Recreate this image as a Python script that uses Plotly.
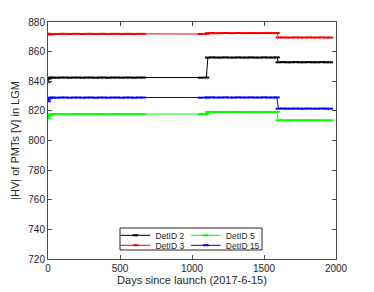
import plotly.graph_objects as go

days = [0, 5, 15, 30, 60, 90, 120, 150, 180, 210, 240, 270, 300, 330, 360, 390, 420, 450, 480, 510, 540, 570, 600, 630, 660,
        1060, 1100,
        1110, 1140, 1170, 1200, 1230, 1260, 1290, 1320, 1350, 1380, 1410, 1440, 1470, 1500, 1530, 1560, 1590,
        1600, 1630, 1660, 1690, 1720, 1750, 1780, 1810, 1840, 1870, 1900, 1930, 1960]

det2 = [839.6, 841.8, 842.4, 842.5, 842.4, 842.5, 842.5, 842.4, 842.5, 842.5, 842.4, 842.5, 842.5, 842.4, 842.5, 842.5, 842.4, 842.5, 842.5, 842.4, 842.5, 842.5, 842.4, 842.5, 842.5,
        842.4, 842.5,
        856.0, 856.1, 856.0, 856.0, 856.1, 856.0, 856.0, 856.1, 856.0, 856.0, 856.1, 856.0, 856.0, 856.1, 856.0, 856.0, 856.1,
        852.8, 852.9, 852.8, 852.8, 852.9, 852.8, 852.8, 852.9, 852.8, 852.8, 852.9, 852.8, 852.8]

det3 = [872.1, 871.9, 871.6, 871.7, 871.9, 872.0, 872.0, 871.9, 872.0, 872.0, 871.9, 872.0, 872.0, 871.9, 872.0, 872.0, 871.9, 872.0, 872.0, 871.9, 872.0, 872.0, 871.9, 872.0, 872.0,
        871.9, 872.0,
        872.5, 872.6, 872.5, 872.5, 872.6, 872.5, 872.5, 872.6, 872.5, 872.5, 872.6, 872.5, 872.5, 872.6, 872.5, 872.5, 872.6,
        869.5, 869.6, 869.5, 869.5, 869.6, 869.5, 869.5, 869.6, 869.5, 869.5, 869.6, 869.5, 869.5]

det5 = [815.0, 816.6, 817.6, 817.8, 817.7, 817.8, 817.8, 817.7, 817.8, 817.8, 817.7, 817.8, 817.8, 817.7, 817.8, 817.8, 817.7, 817.8, 817.8, 817.7, 817.8, 817.8, 817.7, 817.8, 817.8,
        817.8, 817.9,
        819.2, 819.3, 819.2, 819.2, 819.3, 819.2, 819.2, 819.3, 819.2, 819.2, 819.3, 819.2, 819.2, 819.3, 819.2, 819.2, 819.3,
        813.6, 813.7, 813.6, 813.6, 813.7, 813.6, 813.6, 813.7, 813.6, 813.6, 813.7, 813.6, 813.6]

det15 = [826.5, 828.2, 828.9, 829.0, 828.9, 829.0, 829.0, 828.9, 829.0, 829.0, 828.9, 829.0, 829.0, 828.9, 829.0, 829.0, 828.9, 829.0, 829.0, 828.9, 829.0, 829.0, 828.9, 829.0, 829.0,
         828.9, 829.0,
         829.0, 829.1, 829.0, 829.0, 829.1, 829.0, 829.0, 829.1, 829.0, 829.0, 829.1, 829.0, 829.0, 829.1, 829.0, 829.0, 829.1,
         821.5, 821.6, 821.5, 821.5, 821.6, 821.5, 821.5, 821.6, 821.5, 821.5, 821.6, 821.5, 821.5]

series = [("DetID 2", det2, "#000000", "legend"),
          ("DetID 3", det3, "#ff0000", "legend2"),
          ("DetID 5", det5, "#00ff00", "legend3"),
          ("DetID 15", det15, "#0000ff", "legend4")]

fig = go.Figure()
for name, vals, col, lg in series:
    fig.add_trace(go.Scatter(x=days, y=vals, name=name, mode="lines+markers",
                             line=dict(color=col, width=1),
                             marker=dict(symbol="line-ew", size=4, color=col,
                                         line=dict(color=col, width=2)),
                             legend=lg))

axis_col = "#4d4d4d"
font = dict(family="Liberation Sans, Arial, sans-serif", size=10, color="#262626")

def leg(x, y):
    return dict(orientation="v", x=x, y=y, xanchor="left", yanchor="top",
                bgcolor="rgba(0,0,0,0)", font=dict(size=8.5), itemwidth=30, borderwidth=0)

fig.update_layout(
    width=366, height=284,
    margin=dict(l=40, r=38, t=14, b=33),
    paper_bgcolor="white", plot_bgcolor="white",
    font=font,
    xaxis=dict(range=[0, 2000], tickvals=[0, 500, 1000, 1500, 2000], automargin=False,
               showline=True, mirror="ticks", linecolor=axis_col, linewidth=1,
               ticks="inside", ticklen=4, tickcolor=axis_col, showgrid=False, zeroline=False,
               title=dict(text="Days since launch (2017-6-15)", font=dict(size=11), standoff=2)),
    yaxis=dict(range=[720, 880], tickvals=[720, 740, 760, 780, 800, 820, 840, 860, 880], automargin=False,
               showline=True, mirror="ticks", linecolor=axis_col, linewidth=1,
               ticks="inside", ticklen=4, tickcolor=axis_col, showgrid=False, zeroline=False,
               title=dict(text="|HV| of PMTs [V] in LGM", font=dict(size=11), standoff=6)),
    legend=leg(0.234, 0.161),
    legend2=leg(0.234, 0.119),
    legend3=leg(0.4785, 0.161),
    legend4=leg(0.4785, 0.119),
    showlegend=True,
)

fig.add_shape(type="rect", xref="paper", yref="paper",
              x0=(120 - 48) / 288, x1=(262 - 48) / 288,
              y0=(259 - 250) / 237, y1=(259 - 228) / 237,
              line=dict(color="#262626", width=1), fillcolor="white", layer="below")

fig.write_html("out.html")
